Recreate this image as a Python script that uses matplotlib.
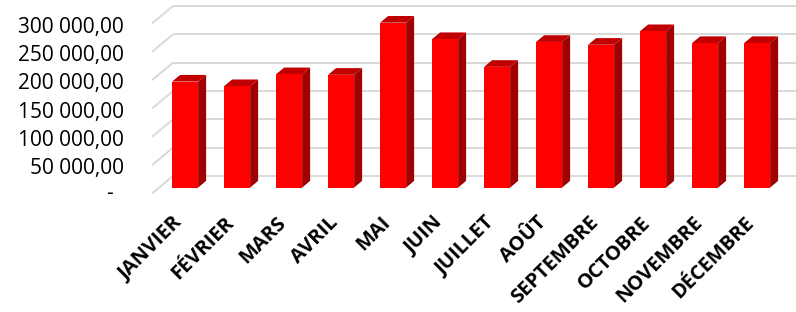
import numpy as np
from matplotlib import pyplot as plt
from matplotlib.patches import Polygon

mois = ['JANVIER', 'FÉVRIER', 'MARS', 'AVRIL', 'MAI', 'JUIN', 'JUILLET',
        'AOÛT', 'SEPTEMBRE', 'OCTOBRE', 'NOVEMBRE', 'DÉCEMBRE']
valeurs = [187000, 179000, 200000, 199000, 291000, 262000, 213000,
           257000, 252000, 276000, 255000, 255000]
graduations = [0, 50000, 100000, 150000, 200000, 250000, 300000]

# pseudo 3D : decalage de profondeur (en unites de donnees)
prof_x = 0.404
prof_y = 30882
t0, t1 = 0.34, 0.72
larg = 0.5

def fmt(v):
    if v == 0:
        return '-'
    s = '{:,.2f}'.format(v)
    return s.replace(',', ' ').replace('.', ',')

def decale(x, y, t):
    return (x + t*prof_x, y + t*prof_y)

def barre(ax, i, v):
    xa, xb = i - larg/2, i + larg/2
    face = [decale(xa, 0, t0), decale(xb, 0, t0), decale(xb, v, t0), decale(xa, v, t0)]
    cote = [decale(xb, 0, t0), decale(xb, 0, t1), decale(xb, v, t1), decale(xb, v, t0)]
    dessus = [decale(xa, v, t0), decale(xb, v, t0), decale(xb, v, t1), decale(xa, v, t1)]
    ax.add_patch(Polygon(cote, closed=True, fc='#a00000', ec='none', zorder=3))
    ax.add_patch(Polygon(dessus, closed=True, fc='#c00000', ec='none', zorder=3))
    ax.add_patch(Polygon(face, closed=True, fc='#ff0000', ec='none', zorder=4))

fig = plt.figure(figsize=(7.96, 3.12), dpi=100)
ax = fig.add_axes([0, 0, 1, 1])
ax.set_xlim(-3.423, 11.885)
ax.set_ylim(-209118, 341471)
ax.axis('off')

gris = '#d9d9d9'
for g in graduations:
    ax.plot([-0.5, -0.5 + prof_x], [g, g + prof_y], color=gris, lw=1.4, zorder=1,
            solid_capstyle='butt')
    ax.plot([-0.5 + prof_x, 11.885], [g + prof_y, g + prof_y], color=gris, lw=1.4,
            zorder=1, solid_capstyle='butt')
    if g:
        dx, dy = -20, -6.5
    else:
        dx, dy = -28, -3.8
    ax.annotate(fmt(g), xy=(-0.5, g), xytext=(dx, dy),
                textcoords='offset points', ha='right', va='baseline',
                fontsize=15, family='Open Sans', color='#000000')

for i, v in enumerate(valeurs):
    barre(ax, i, v)
    ax.annotate(mois[i], xy=(i, 0), xytext=(3.6, -21.5), textcoords='offset points',
                ha='right', va='baseline', rotation=45, rotation_mode='anchor',
                fontsize=14.5, family='Open Sans', fontweight='bold', color='#000000')

fig.savefig('out.png', dpi=100)
